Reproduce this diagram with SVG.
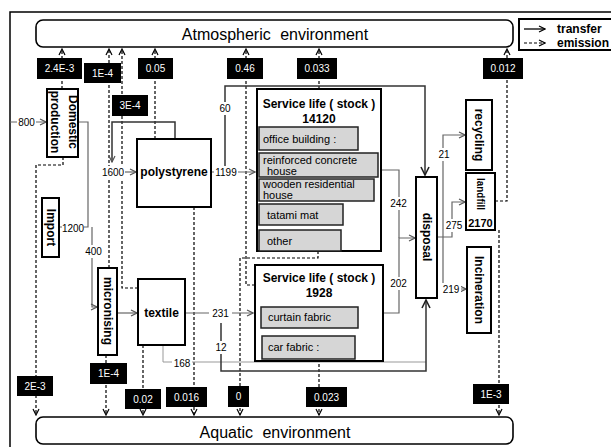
<svg xmlns="http://www.w3.org/2000/svg" width="611" height="447" viewBox="0 0 611 447">
<defs>
<style>
text{font-family:"Liberation Sans",Arial,sans-serif;fill:#000}
.box{fill:#fff;stroke:#000;stroke-width:2}
.env{fill:#fff;stroke:#000;stroke-width:1.6}
.sub{fill:#d6d6d6;stroke:#222;stroke-width:1.5}
.b12{font-size:12px;font-weight:bold;text-anchor:middle}
.st{font-size:12px;font-weight:bold;text-anchor:middle}
.s11{font-size:11px}
.env-t{font-size:16px;text-anchor:middle;word-spacing:5px}
.lab rect{fill:#000}
.lab text{fill:#fff;font-size:10px;text-anchor:middle}
.num rect{fill:#fff}
.num text{font-size:10px;text-anchor:middle}
.fl{fill:none;stroke:#666;stroke-width:1.2}
.fd{fill:none;stroke:#333;stroke-width:1.5}
.fl2{fill:none;stroke:#999;stroke-width:1}
.em{fill:none;stroke:#000;stroke-width:1.2;stroke-dasharray:3 2}
</style>
<marker id="ag" viewBox="0 0 8 8" refX="7" refY="4" markerWidth="8" markerHeight="8" markerUnits="userSpaceOnUse" orient="auto"><path d="M1,1 L7,4 L1,7" fill="none" stroke="#555" stroke-width="1.2"/></marker>
<marker id="ad" viewBox="0 0 8 8" refX="7" refY="4" markerWidth="8" markerHeight="8" markerUnits="userSpaceOnUse" orient="auto"><path d="M1,1 L7,4 L1,7" fill="none" stroke="#000" stroke-width="1.2"/></marker>
<marker id="ab" viewBox="0 0 10 10" refX="9" refY="5" markerWidth="10" markerHeight="10" markerUnits="userSpaceOnUse" orient="auto"><path d="M1,1 L9,5 L1,9" fill="none" stroke="#222" stroke-width="1.6"/></marker>
</defs>
<rect x="0" y="0" width="611" height="447" fill="#fff"/>
<rect x="10" y="12" width="620" height="450" fill="none" stroke="#000" stroke-width="1.5"/>

<g id="atmosphere">
<rect class="env" x="36" y="20" width="477" height="27" rx="7"/>
<text class="env-t" x="275" y="40">Atmospheric environment</text>
</g>
<g id="aquatic">
<rect class="env" x="36" y="417" width="477" height="27" rx="7"/>
<text class="env-t" x="275" y="438">Aquatic environment</text>
</g>
<g id="legend">
<rect x="519" y="19" width="100" height="31" fill="#fff" stroke="#000" stroke-width="2"/>
<path d="M524,29 H545" fill="none" stroke="#000" stroke-width="1.3" marker-end="url(#ad)"/>
<path d="M524,43 H545" class="em" marker-end="url(#ad)"/>
<text x="557" y="33" font-size="12" font-weight="bold">transfer</text>
<text x="557" y="47" font-size="12" font-weight="bold">emission</text>
</g>

<g id="connectors">
<path class="em" d="M62,89 V49" marker-end="url(#ad)"/>
<path class="em" d="M109,268 V49" marker-end="url(#ad)"/>
<path class="em" d="M138,288 H122 V49" marker-end="url(#ad)"/>
<path class="em" d="M155,139 V49" marker-end="url(#ad)"/>
<path class="em" d="M255,285 H246 V49" marker-end="url(#ad)"/>
<path class="em" d="M319,89 V49" marker-end="url(#ad)"/>
<path class="em" d="M495,201 H507 V49" marker-end="url(#ad)"/>
<path class="em" d="M63,157 V165 H36 V415" marker-end="url(#ad)"/>
<path class="em" d="M106,355 V415" marker-end="url(#ad)"/>
<path class="em" d="M143,345 V415" marker-end="url(#ad)"/>
<path class="em" d="M194,207 V415" marker-end="url(#ad)"/>
<path class="em" d="M318,251 V258 H240 V415" marker-end="url(#ad)"/>
<path class="em" d="M319,359 V415" marker-end="url(#ad)"/>
<path class="em" d="M499,230 V415" marker-end="url(#ad)"/>
<path class="fl" d="M10,122 H46" marker-end="url(#ag)"/>
<path class="fl" d="M78,122 H88 V227 H59"/>
<path class="fl" d="M92,227 V307 H97" marker-end="url(#ag)"/>
<path class="fd" d="M175,139 V122 H112 V162" marker-end="url(#ag)"/>
<path class="fl" d="M124,172 H136" marker-end="url(#ag)"/>
<path class="fl" d="M211,172 H255" marker-end="url(#ag)"/>
<path class="fd" d="M225,166 V86 H425 V175" marker-end="url(#ab)"/>
<path class="fl" d="M378,170 H399 V238"/>
<path class="fl" d="M383,313 H399 V238 H415" marker-end="url(#ag)"/>
<path class="fl" d="M117,313 H137" marker-end="url(#ag)"/>
<path class="fl" d="M185,313 H253" marker-end="url(#ag)"/>
<path class="fl2" d="M163,345 V362 H426"/>
<path class="fd" d="M221,323 V371 H426 V300" marker-end="url(#ab)"/>
<path class="fl" d="M437,237 H452 V202 H465" marker-end="url(#ag)"/>
<path class="fl" d="M443,237 V135 H465" marker-end="url(#ag)"/>
<path class="fl" d="M443,237 V289 H466" marker-end="url(#ag)"/>
</g>

<g id="flow-values" class="num">
<rect x="17" y="116" width="19" height="12"/><text x="26.5" y="126">800</text>
<rect x="62" y="222" width="22" height="12"/><text x="73" y="232">1200</text>
<rect x="84" y="245" width="19" height="13"/><text x="93.5" y="255">400</text>
<rect x="101" y="166" width="24" height="13"/><text x="113" y="176">1600</text>
<rect x="214" y="166" width="24" height="13"/><text x="226" y="176">1199</text>
<rect x="216" y="102" width="18" height="13"/><text x="225" y="112">60</text>
<rect x="389" y="197" width="19" height="13"/><text x="398.5" y="207">242</text>
<rect x="389" y="277" width="19" height="13"/><text x="398.5" y="287">202</text>
<rect x="209" y="307" width="23" height="13"/><text x="220.5" y="317">231</text>
<rect x="213" y="341" width="16" height="13"/><text x="221" y="351">12</text>
<rect x="172" y="357" width="20" height="13"/><text x="182" y="367">168</text>
<rect x="437" y="148" width="14" height="13"/><text x="444" y="158">21</text>
<rect x="444" y="219" width="20" height="13"/><text x="454" y="229">275</text>
<rect x="441" y="283" width="20" height="13"/><text x="451" y="293">219</text>
</g>

<g id="emission-values" class="lab">
<rect x="37" y="58" width="45" height="21"/><text x="59.5" y="72">2.4E-3</text>
<rect x="84" y="63" width="37" height="20"/><text x="102.5" y="77">1E-4</text>
<rect x="112" y="95" width="36" height="21"/><text x="130" y="109">3E-4</text>
<rect x="138" y="58" width="35" height="21"/><text x="155.5" y="72">0.05</text>
<rect x="227" y="58" width="36" height="21"/><text x="245" y="72">0.46</text>
<rect x="297" y="58" width="40" height="21"/><text x="317" y="72">0.033</text>
<rect x="483" y="58" width="40" height="21"/><text x="503" y="72">0.012</text>
<rect x="17" y="376" width="36" height="20"/><text x="35" y="390">2E-3</text>
<rect x="90" y="363" width="37" height="21"/><text x="108.5" y="377">1E-4</text>
<rect x="125" y="389" width="36" height="20"/><text x="143" y="403">0.02</text>
<rect x="166" y="387" width="41" height="20"/><text x="186.5" y="401">0.016</text>
<rect x="228" y="386" width="21" height="21"/><text x="238.5" y="400">0</text>
<rect x="306" y="387" width="41" height="20"/><text x="326.5" y="401">0.023</text>
<rect x="473" y="384" width="36" height="20"/><text x="491" y="398">1E-3</text>
</g>

<g id="domestic-production">
<rect class="box" x="47" y="89" width="31" height="68"/>
<g transform="translate(62.5,122) rotate(90)">
<text class="b12" x="0" y="-6">Domestic</text>
<text class="b12" x="0" y="12">production</text>
</g>
</g>
<g id="import">
<rect class="box" x="42" y="198" width="17" height="59"/>
<text class="b12" transform="translate(50.5,227.5) rotate(90)" x="0" y="4">Import</text>
</g>
<g id="micronising">
<rect class="box" x="98" y="268" width="19" height="87"/>
<text class="b12" transform="translate(107.5,311) rotate(90)" x="0" y="4">micronising</text>
</g>
<g id="polystyrene">
<rect class="box" x="137" y="139" width="74" height="68"/>
<text class="b12" x="174" y="176">polystyrene</text>
</g>
<g id="textile">
<rect class="box" x="138" y="279" width="47" height="66"/>
<text class="b12" x="161.5" y="317">textile</text>
</g>
<g id="stock-14120">
<rect class="box" x="257" y="89" width="124" height="162"/>
<text class="st" x="319" y="108">Service life ( stock )</text>
<text class="st" x="319" y="123">14120</text>
<rect class="sub" x="259" y="127" width="99" height="23"/>
<text class="s11" x="263" y="143">office building :</text>
<rect class="sub" x="259" y="153" width="119" height="24"/>
<text class="s11" x="263" y="164">reinforced concrete</text>
<text class="s11" x="267" y="175">house</text>
<rect class="sub" x="259" y="179" width="115" height="22"/>
<text class="s11" x="263" y="188">wooden residential</text>
<text class="s11" x="263" y="199">house</text>
<rect class="sub" x="259" y="204" width="84" height="21"/>
<text class="s11" x="267" y="219">tatami mat</text>
<rect class="sub" x="259" y="230" width="82" height="21"/>
<text class="s11" x="267" y="245">other</text>
</g>
<g id="stock-1928">
<rect class="box" x="255" y="265" width="128" height="96"/>
<text class="st" x="319" y="282">Service life ( stock )</text>
<text class="st" x="319" y="297">1928</text>
<rect class="sub" x="261" y="307" width="97" height="21"/>
<text class="s11" x="268" y="321">curtain fabric</text>
<rect class="sub" x="262" y="336" width="93" height="23"/>
<text class="s11" x="268" y="351">car fabric :</text>
</g>
<g id="disposal">
<rect class="box" x="416" y="177" width="21" height="121"/>
<text class="b12" transform="translate(426.5,237) rotate(90)" x="0" y="4">disposal</text>
</g>
<g id="recycling">
<rect class="box" x="466" y="100" width="26" height="70"/>
<text class="b12" transform="translate(479,135) rotate(90)" x="0" y="4">recycling</text>
</g>
<g id="landfill">
<rect class="box" x="466" y="173" width="29" height="57"/>
<text transform="translate(480.5,194) rotate(90)" x="0" y="4" font-size="11" font-weight="bold" text-anchor="middle" textLength="32" lengthAdjust="spacingAndGlyphs">landfill</text>
<text x="480.5" y="227" font-size="11" font-weight="bold" text-anchor="middle">2170</text>
</g>
<g id="incineration">
<rect class="box" x="467" y="247" width="24" height="86"/>
<text class="b12" transform="translate(479,290) rotate(90)" x="0" y="4">Incineration</text>
</g>
</svg>
